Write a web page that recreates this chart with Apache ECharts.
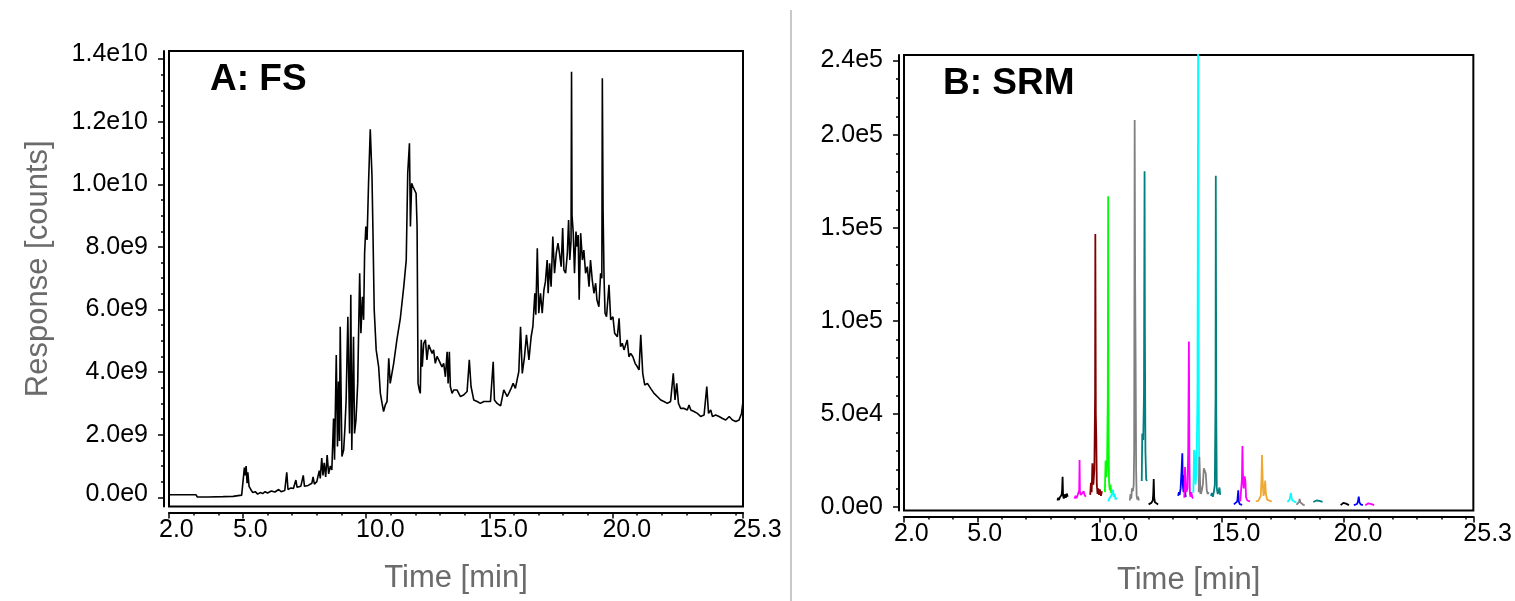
<!DOCTYPE html>
<html><head><meta charset="utf-8">
<script src="https://cdn.jsdelivr.net/npm/echarts@6/dist/echarts.min.js"></script>
<style>html,body{margin:0;padding:0;background:#fff;}#chart{width:1515px;height:601px;}</style>
</head><body><div id="chart"></div>
<script>
// ---------- DATA ----------
// A: FS total ion chromatogram, [time min, response in units of 1e9 counts]
const fsChromatogram = [
[2.00,0.08],[2.50,0.08],[3.10,0.08],[3.15,0.01],[3.60,0.01],[4.20,0.02],[4.60,0.03],[4.95,0.07],
[5.02,0.10],[5.06,0.95],[5.10,0.70],[5.13,1.00],[5.17,0.45],[5.20,0.80],[5.25,0.35],[5.32,0.25],
[5.40,0.15],[5.50,0.18],[5.60,0.10],[5.70,0.15],[5.80,0.12],[5.90,0.18],[6.00,0.14],[6.15,0.20],
[6.30,0.17],[6.45,0.25],[6.55,0.18],[6.70,0.22],[6.78,0.80],[6.83,0.25],[6.95,0.30],[7.05,0.28],
[7.15,0.55],[7.20,0.32],[7.35,0.35],[7.45,0.70],[7.50,0.35],[7.65,0.38],[7.80,0.45],[7.85,0.65],
[7.90,0.42],[8.00,0.50],[8.10,0.85],[8.14,0.60],[8.20,1.25],[8.25,0.70],[8.30,1.10],[8.36,0.65],
[8.42,1.35],[8.48,0.75],[8.55,1.00],[8.61,0.87],[8.68,2.52],[8.72,1.20],[8.79,4.55],[8.84,1.62],
[8.88,3.70],[8.92,1.80],[8.95,5.45],[9.02,1.30],[9.09,1.51],[9.14,2.20],[9.19,3.11],[9.26,5.77],
[9.33,2.04],[9.38,6.47],[9.42,1.51],[9.49,5.13],[9.53,2.04],[9.59,2.47],[9.66,3.64],[9.74,7.16],
[9.79,5.24],[9.85,6.41],[9.90,5.67],[9.94,7.80],[9.99,8.65],[10.04,8.22],[10.10,10.03],[10.17,11.76],
[10.24,10.25],[10.28,8.44],[10.33,5.99],[10.41,4.71],[10.51,4.17],[10.58,3.32],[10.65,3.00],[10.71,2.74],
[10.78,2.95],[10.85,3.06],[10.92,4.44],[10.98,3.64],[11.12,4.28],[11.25,5.03],[11.39,5.72],[11.53,6.73],
[11.63,7.58],[11.69,10.35],[11.76,11.31],[11.80,8.65],[11.85,10.03],[11.90,9.93],[11.96,9.93],[12.03,9.71],
[12.07,8.65],[12.11,3.64],[12.16,3.43],[12.20,3.32],[12.24,5.03],[12.28,4.17],[12.34,4.92],[12.41,5.03],
[12.47,4.39],[12.54,4.87],[12.61,4.81],[12.68,4.60],[12.74,4.71],[12.81,4.28],[12.88,4.50],[12.95,4.39],
[13.02,4.39],[13.08,4.17],[13.15,4.28],[13.22,3.85],[13.29,4.65],[13.33,3.64],[13.38,4.65],[13.42,3.54],
[13.49,3.32],[13.56,3.43],[13.69,3.43],[13.83,3.22],[13.96,3.27],[14.10,3.38],[14.19,4.39],[14.26,3.54],
[14.37,3.11],[14.51,3.06],[14.64,3.00],[14.78,3.06],[14.91,3.06],[15.05,3.06],[15.16,4.33],[15.21,3.11],
[15.32,3.00],[15.46,2.92],[15.59,3.43],[15.73,3.22],[15.86,3.43],[15.97,3.64],[16.06,3.48],[16.13,3.75],
[16.20,4.02],[16.27,5.45],[16.34,3.96],[16.43,4.49],[16.51,5.19],[16.61,4.39],[16.70,5.13],[16.77,5.45],
[16.85,6.52],[16.89,5.83],[16.95,7.96],[17.01,5.88],[17.08,6.52],[17.15,5.88],[17.22,6.63],[17.28,6.89],
[17.35,7.58],[17.39,6.52],[17.45,7.48],[17.51,6.73],[17.58,8.33],[17.65,7.16],[17.72,7.80],[17.79,8.12],
[17.85,7.80],[17.92,7.37],[17.98,8.60],[18.03,7.27],[18.10,7.16],[18.17,7.80],[18.22,8.86],[18.27,7.58],
[18.32,8.20],[18.34,13.60],[18.36,9.00],[18.41,8.44],[18.46,7.16],[18.52,8.49],[18.57,8.01],[18.61,8.38],
[18.65,6.31],[18.71,8.44],[18.78,7.58],[18.84,7.90],[18.91,7.16],[18.98,7.37],[19.05,6.73],[19.11,7.58],
[19.18,6.95],[19.25,6.52],[19.32,6.84],[19.37,6.31],[19.45,6.09],[19.52,7.16],[19.57,7.00],[19.59,13.39],
[19.62,9.18],[19.66,7.00],[19.70,5.88],[19.76,5.77],[19.86,6.79],[19.93,5.67],[20.02,5.77],[20.09,5.24],
[20.20,5.13],[20.27,5.72],[20.33,4.81],[20.40,4.92],[20.47,4.71],[20.54,4.71],[20.60,5.03],[20.67,4.49],
[20.74,4.60],[20.83,4.49],[20.92,4.28],[21.01,4.17],[21.08,4.07],[21.15,5.19],[21.23,3.96],[21.31,3.59],
[21.42,3.64],[21.55,3.48],[21.69,3.32],[21.82,3.22],[21.96,3.11],[22.09,3.06],[22.23,3.00],[22.36,3.06],
[22.47,3.96],[22.54,3.11],[22.61,3.64],[22.68,3.00],[22.77,2.84],[22.91,2.84],[23.04,2.79],[23.11,2.95],
[23.18,2.79],[23.31,2.74],[23.45,2.68],[23.58,2.58],[23.72,2.63],[23.83,3.54],[23.90,2.68],[23.99,2.79],
[24.06,2.58],[24.19,2.63],[24.33,2.58],[24.47,2.52],[24.60,2.47],[24.74,2.58],[24.87,2.47],[25.01,2.42],
[25.14,2.47],[25.24,2.68],[25.30,3.06]
];

// B: SRM traces, [time min, counts]
const srmTrace01 = [[8.28,3500],[8.31,5000],[8.34,3800],[8.38,5200],[8.42,4200],[8.45,6500],[8.47,9000],[8.49,16300],[8.51,6000],[8.54,4500],[8.58,6800],[8.62,5000],[8.66,7200],[8.70,5500]];
const srmTrace02 = [[8.98,4500],[9.02,6000],[9.06,4800],[9.10,6200],[9.15,5500],[9.17,9000],[9.185,25300],[9.20,8000],[9.24,6500],[9.28,7500],[9.31,5800],[9.35,8500],[9.39,6500],[9.44,5500]];
const srmTrace03 = [[9.62,6500],[9.65,13000],[9.68,8000],[9.71,23500],[9.75,12000],[9.79,20000],[9.82,60000],[9.83,146700],[9.85,50000],[9.87,37000],[9.89,12000],[9.92,7000],[9.95,10000],[9.98,6500],[10.02,9500],[10.06,6000],[10.10,8500]];
const srmTrace04 = [[10.22,8000],[10.25,25000],[10.28,16000],[10.31,22000],[10.34,60000],[10.354,167000],[10.37,40000],[10.39,13800],[10.42,9000],[10.45,12000],[10.48,7500]];
const srmTrace05 = [[10.36,3000],[10.40,4500],[10.44,3500],[10.48,6000],[10.52,5000],[10.556,9300],[10.58,5500],[10.62,7000],[10.66,4000],[10.70,5000],[10.73,3600]];
const srmTrace06 = [[11.24,3500],[11.27,7000],[11.30,4500],[11.33,10000],[11.37,8500],[11.40,12000],[11.42,30000],[11.44,208000],[11.46,120000],[11.48,77000],[11.50,20000],[11.52,6000],[11.55,4000],[11.58,5500],[11.61,3500]];
const srmTrace07 = [[11.73,14000],[11.75,39500],[11.77,40500],[11.79,36000],[11.82,60000],[11.845,180500],[11.86,90000],[11.88,30000],[11.91,15000],[11.94,14000]];
const srmTrace08 = [[12.01,1400],[12.06,1800],[12.12,2200],[12.18,3500],[12.20,7000],[12.22,15000],[12.24,5000],[12.27,2500],[12.33,1800],[12.40,1400]];
const srmTrace09 = [[13.22,6000],[13.25,8000],[13.28,6500],[13.32,10000],[13.36,20000],[13.39,28900],[13.41,12000],[13.44,8000],[13.47,17000],[13.49,12000],[13.52,6000],[13.55,5500]];
const srmTrace10 = [[13.47,5000],[13.50,21500],[13.53,12000],[13.56,8000],[13.60,10000],[13.63,30000],[13.66,89000],[13.68,25000],[13.70,7000],[13.73,5500],[13.76,8000],[13.80,5000],[13.84,4800]];
const srmTrace11 = [[13.84,7600],[13.87,30600],[13.90,28500],[13.93,12000],[13.97,18000],[14.01,60000],[14.04,275000],[14.06,80000],[14.08,15000],[14.10,8000],[14.13,7000]];
const srmTrace12 = [[14.06,8000],[14.09,27000],[14.12,12000],[14.15,7000],[14.19,9000],[14.23,12000],[14.27,20800],[14.31,19500],[14.35,18000],[14.39,9000],[14.43,7000],[14.47,8000],[14.50,6500]];
const srmTrace13 = [[14.56,6000],[14.60,7500],[14.64,5500],[14.68,8000],[14.72,12000],[14.75,60000],[14.76,178000],[14.78,50000],[14.80,10000],[14.84,7000],[14.88,9000],[14.91,10500],[14.94,6500]];
const srmTrace14 = [[15.50,1400],[15.58,1800],[15.64,3000],[15.66,6000],[15.68,9000],[15.70,3000],[15.74,1500],[15.80,1400],[15.84,1200]];
const srmTrace15 = [[15.76,3000],[15.80,4000],[15.83,15000],[15.85,32800],[15.87,18000],[15.90,10000],[15.94,16500],[15.97,14000],[16.00,5000],[16.05,3500],[16.10,3200],[16.16,3000]];
const srmTrace16 = [[16.40,3200],[16.45,3500],[16.50,3300],[16.55,4000],[16.60,6000],[16.63,15000],[16.65,27900],[16.68,14000],[16.71,6000],[16.75,8000],[16.78,14200],[16.81,7000],[16.86,4000],[16.92,3500],[16.98,3300],[17.05,3000]];
const srmTrace17 = [[17.69,2700],[17.74,3000],[17.78,4000],[17.81,6000],[17.83,7600],[17.86,5000],[17.90,3500],[17.95,3000],[18.00,2700],[18.06,2500]];
const srmTrace18 = [[18.06,1200],[18.12,1500],[18.17,2800],[18.19,4300],[18.22,2500],[18.28,1500],[18.34,1200],[18.40,1000]];
const srmTrace19 = [[18.75,2700],[18.82,3000],[18.88,3500],[18.91,3600],[18.93,4300],[18.96,3600],[19.00,3300],[19.06,3000],[19.13,2800]];
const srmTrace20 = [[19.87,1000],[19.93,1400],[19.98,2200],[20.02,3000],[20.05,2600],[20.09,1800],[20.15,1200],[20.21,1000]];
const srmTrace21 = [[20.41,1000],[20.48,1200],[20.54,1600],[20.58,3000],[20.61,5600],[20.64,2500],[20.69,1400],[20.74,1100],[20.78,1000]];
const srmTrace22 = [[20.88,1000],[20.94,1200],[21.00,2000],[21.03,2600],[21.05,3000],[21.08,2400],[21.13,1500],[21.19,1100],[21.24,1000]];
const srmTraces = [srmTrace01,srmTrace02,srmTrace03,srmTrace04,srmTrace05,srmTrace06,srmTrace07,srmTrace08,srmTrace09,srmTrace10,srmTrace11,
  srmTrace12,srmTrace13,srmTrace14,srmTrace15,srmTrace16,srmTrace17,srmTrace18,srmTrace19,srmTrace20,srmTrace21,srmTrace22];

// tick positions / labels
const timeMajorTicks = [2, 5, 10, 15, 20, 25.3];
const timeMinorTicks = [2,3,4,5,6,7,8,9,10,11,12,13,14,15,16,17,18,19,20,21,22,23,24,25,25.3];
const fsYMajorTicks = [0, 2, 4, 6, 8, 10, 12, 14];          // x1e9 counts
const fsYMinorTicks = [0,0.5,1,1.5,2,2.5,3,3.5,4,4.5,5,5.5,6,6.5,7,7.5,8,8.5,9,9.5,10,10.5,11,11.5,12,12.5,13,13.5,14];
const srmYMajorTicks = [0, 50000, 100000, 150000, 200000, 240000];
const srmYMinorTicks = [0,10000,20000,30000,40000,50000,60000,70000,80000,90000,100000,110000,120000,130000,140000,150000,160000,170000,180000,190000,200000,210000,220000,230000,240000];

// ---------- STYLE ----------
const srmTraceColors = ['#000000','#ff00ff','#800000','#00ff00','#00ffff','#808080','#008080','#000000','#0000ff','#ff00ff','#00ffff',
  '#808080','#008080','#0000ff','#ff00ff','#f0a830','#00ffff','#808080','#008080','#000000','#0000ff','#ff00ff'];

const FONT = '"Liberation Sans", Arial, sans-serif';
const NAME_COLOR = '#6b6b6b';

function sci(raw) {
  if (raw === 0) return '0.0e0';
  let e = Math.floor(Math.log10(Math.abs(raw)) + 1e-9);
  let m = raw / Math.pow(10, e);
  return m.toFixed(1) + 'e' + e;
}

const G = [
  {left: 169, top: 51, width: 574, height: 455.5},
  {left: 904, top: 55, width: 577.5, height: 455.5}
];
const YR = [[-0.294, 14.26], [-1880, 242960]];

function xAxes(gi, off, gap) {
  const common = {gridIndex: gi, type: 'value', min: 2, max: 25.3, position: 'bottom', offset: off, splitLine: {show: false}};
  return [
    Object.assign({}, common, {
      axisLine: {show: true, onZero: false, lineStyle: {color: '#000', width: 2}},
      axisTick: {show: true, customValues: timeMinorTicks, length: 3, lineStyle: {color: '#000', width: 1.5}},
      axisLabel: {show: false}
    }),
    Object.assign({}, common, {
      axisLine: {show: false, onZero: false},
      axisTick: {show: true, customValues: timeMajorTicks, length: 6, lineStyle: {color: '#000', width: 1.5}},
      axisLabel: {show: true, customValues: timeMajorTicks, interval: 0, formatter: v => v.toFixed(1),
        fontSize: 25, fontFamily: FONT, color: '#000', align: 'left', padding: [0, 0, 0, -10], margin: 5},
      name: 'Time [min]', nameLocation: 'middle', nameGap: gap,
      nameTextStyle: {fontSize: 31, fontFamily: FONT, color: NAME_COLOR}
    })
  ];
}
const richLabel = {
  up: {fontSize: 25, fontFamily: FONT, color: '#000', padding: [0, 0, 10, 0]},
  lo: {fontSize: 25, fontFamily: FONT, color: '#000', padding: [0, 0, 6, 0]}
};
function yAxes(gi, minor, major, fmt, margin, name) {
  const common = {gridIndex: gi, type: 'value', min: YR[gi][0], max: YR[gi][1], position: 'left', offset: 5, splitLine: {show: false}};
  const a = [
    Object.assign({}, common, {
      axisLine: {show: true, onZero: false, lineStyle: {color: '#000', width: 2}},
      axisTick: {show: true, customValues: minor, length: 3, lineStyle: {color: '#000', width: 1.5}},
      axisLabel: {show: false}
    }),
    Object.assign({}, common, {
      axisLine: {show: false, onZero: false},
      axisTick: {show: true, customValues: major, length: 6, lineStyle: {color: '#000', width: 1.5}},
      axisLabel: {show: true, customValues: major, interval: 0, formatter: fmt, rich: richLabel,
        fontSize: 25, fontFamily: FONT, color: '#000', margin: margin}
    })
  ];
  if (name) {
    Object.assign(a[1], {name: name, nameLocation: 'middle', nameGap: 110, nameRotate: 90,
      nameTextStyle: {fontSize: 31, fontFamily: FONT, color: NAME_COLOR, padding: [0, 0, 0, 20]}});
  }
  return a;
}
function fsYFormat(v) {
  const s = sci(v * 1e9);
  if (v === 14) return '{up|' + s + '}';
  if (v === 0) return '{lo|' + s + '}';
  return s;
}

const series = [{
  type: 'line', xAxisIndex: 1, yAxisIndex: 1, data: fsChromatogram, showSymbol: false, symbol: 'none',
  lineStyle: {color: '#000', width: 1.6}, animation: false, silent: true
}];
srmTraces.forEach((tr, i) => {
  series.push({
    type: 'line', xAxisIndex: 3, yAxisIndex: 3, data: tr, showSymbol: false, symbol: 'none', clip: true,
    lineStyle: {color: srmTraceColors[i], width: 1.8}, animation: false, silent: true
  });
});

const chart = echarts.init(document.getElementById('chart'), null, {renderer: 'canvas'});
chart.setOption({
  animation: false,
  backgroundColor: '#fff',
  textStyle: {fontFamily: FONT},
  grid: G.map(g => Object.assign({show: true, borderColor: '#000', borderWidth: 2, backgroundColor: 'transparent', containLabel: false}, g)),
  xAxis: xAxes(0, 6, 50).concat(xAxes(1, 6, 48)),
  yAxis: yAxes(0, fsYMinorTicks, fsYMajorTicks, fsYFormat, 16, 'Response [counts]')
    .concat(yAxes(1, srmYMinorTicks, srmYMajorTicks, v => sci(v), 16, null)),
  series: series,
  graphic: [
    {type: 'line', shape: {x1: 791, y1: 10, x2: 791, y2: 601}, style: {stroke: '#c8c8c8', lineWidth: 2}},
    {type: 'text', x: 210, y: 80, style: {text: 'A: FS', fontSize: 37, fontWeight: 'bold', fontFamily: FONT, fill: '#000', verticalAlign: 'middle'}},
    {type: 'text', x: 943, y: 84, style: {text: 'B: SRM', fontSize: 37, fontWeight: 'bold', fontFamily: FONT, fill: '#000', verticalAlign: 'middle'}}
  ]
});
</script></body></html>
